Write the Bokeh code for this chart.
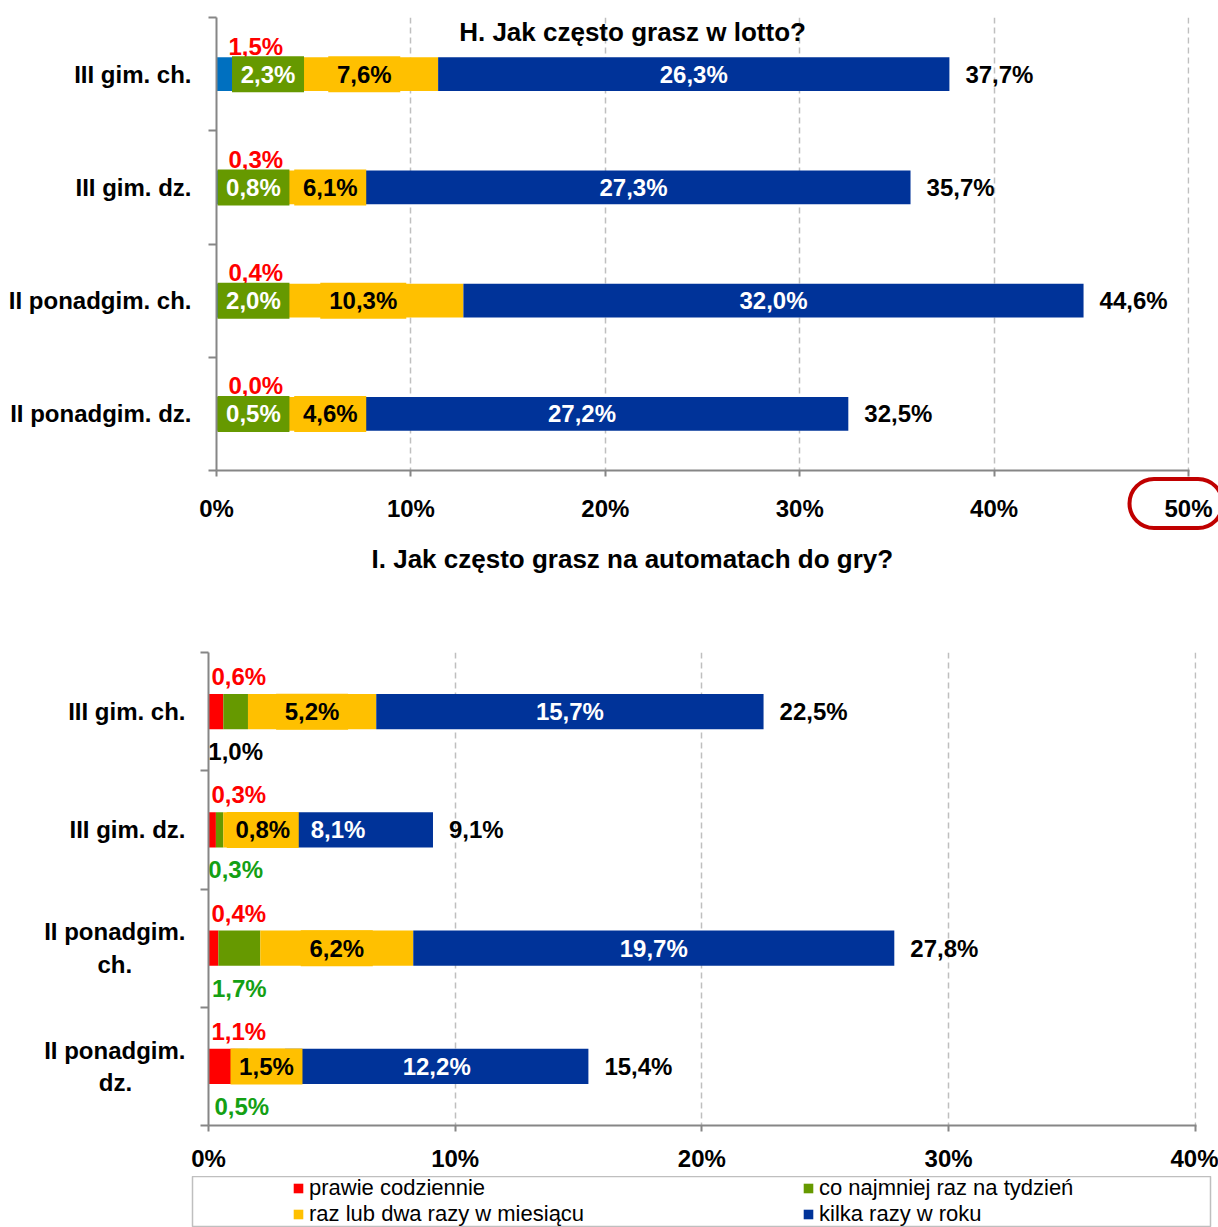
from bokeh.plotting import figure
from bokeh.models import (Range1d, FixedTicker, Label, Legend, LegendItem,
                          PrintfTickFormatter, Title)
from bokeh.embed import file_html
from bokeh.resources import INLINE
from bokeh.core.properties import value

FONT = "Liberation Sans"

# ---------------- data ----------------
series_names = ["prawie codziennie", "co najmniej raz na tydzień",
                "raz lub dwa razy w miesiącu", "kilka razy w roku"]

h_title = "H. Jak często grasz w lotto?"
h_categories = ["III gim. ch.", "III gim. dz.", "II ponadgim. ch.", "II ponadgim. dz."]
h_daily = [1.5, 0.3, 0.4, 0.0]
h_weekly = [2.3, 0.8, 2.0, 0.5]
h_monthly = [7.6, 6.1, 10.3, 4.6]
h_yearly = [26.3, 27.3, 32.0, 27.2]
h_total = [37.7, 35.7, 44.6, 32.5]
h_ticks = [0, 10, 20, 30, 40, 50]

i_title = "I. Jak często grasz na automatach do gry?"
i_categories = ["III gim. ch.", "III gim. dz.", "II ponadgim.\nch.", "II ponadgim.\ndz."]
i_daily = [0.6, 0.3, 0.4, 1.1]
i_weekly = [1.0, 0.3, 1.7, 0.5]
i_monthly = [5.2, 0.8, 6.2, 1.5]
i_yearly = [15.7, 8.1, 19.7, 12.2]
i_total = [22.5, 9.1, 27.8, 15.4]
i_ticks = [0, 10, 20, 30, 40]

# ---------------- styles ----------------
RED = "#FF0000"
LIGHTBLUE = "#0070C0"
GREEN = "#669900"
YELLOW = "#FFC000"
BLUE = "#003399"
AXIS = "#868686"
GRID = "#BFBFBF"
LABEL_GREEN = "#14A014"
MARK = "#C00000"
NBSP = "\u00a0"


def fmt(v):
    return ("%.1f" % v).replace(".", ",") + "%"


def box_w(t):
    return 14 * len(t) + 16


def add_text(p, xs, ys, texts, color, align="center", x_off=0, y_off=0):
    p.text(x=xs, y=ys, text=texts, text_font=value(FONT), text_font_size="24px",
           text_font_style="bold", text_color=color, text_align=align,
           text_baseline="middle", x_offset=x_off, y_offset=y_off)


def add_boxes(p, xs, ys, texts, fill):
    p.rect(x=xs, y=ys, width=[box_w(t) for t in texts], height=36,
           width_units="screen", height_units="screen",
           fill_color=fill, line_color=None)


def centre_second_line(label):
    # second line of a wrapped category label is centred under the first
    if "\n" not in label:
        return label
    a, b = label.split("\n")
    pad = max(0, round((len(a) - len(b)) * 0.9))
    return a + "\n" + b + NBSP * pad


def base_figure(height, xmax, ticks, cats, left, right, top, bottom,
                standoff_y, standoff_x):
    n = len(cats)
    p = figure(width=1218, height=height, output_backend="svg",
               toolbar_location=None, x_range=Range1d(0, xmax + 0.05),
               y_range=Range1d(n, 0), min_border_left=left,
               min_border_right=right, min_border_top=top,
               min_border_bottom=bottom)
    p.outline_line_color = None
    ypos = [k + 0.5 for k in range(n)]
    yax = p.yaxis[0]
    yax.ticker = FixedTicker(ticks=ypos, minor_ticks=list(range(n + 1)))
    yax.major_label_overrides = {y: centre_second_line(c) for y, c in zip(ypos, cats)}
    yax.major_tick_out = 0
    yax.major_tick_in = 0
    yax.minor_tick_out = 8
    yax.minor_tick_in = 0
    yax.minor_tick_line_color = AXIS
    yax.minor_tick_line_width = 2
    yax.axis_line_color = AXIS
    yax.axis_line_width = 2
    yax.major_label_standoff = standoff_y
    yax.major_label_text_font = FONT
    yax.major_label_text_font_size = "24px"
    yax.major_label_text_font_style = "bold"
    yax.major_label_text_color = "black"
    xax = p.xaxis[0]
    xax.ticker = FixedTicker(ticks=ticks)
    xax.formatter = PrintfTickFormatter(format="%d%%")
    xax.major_tick_out = 6
    xax.major_tick_in = 0
    xax.minor_tick_out = 0
    xax.minor_tick_in = 0
    xax.major_tick_line_color = AXIS
    xax.major_tick_line_width = 2
    xax.axis_line_color = AXIS
    xax.axis_line_width = 2
    xax.major_label_standoff = standoff_x
    xax.major_label_text_font = FONT
    xax.major_label_text_font_size = "24px"
    xax.major_label_text_font_style = "bold"
    xax.major_label_text_color = "black"
    p.ygrid.visible = False
    p.xgrid.ticker = FixedTicker(ticks=ticks[1:])
    p.xgrid.grid_line_color = GRID
    p.xgrid.grid_line_dash = "6 4"
    p.xgrid.grid_line_width = 1.5
    return p, ypos


def stack_bars(p, ypos, daily, weekly, monthly, yearly, total, first_color):
    c1 = list(daily)
    c2 = [a + b for a, b in zip(c1, weekly)]
    c3 = [a + b for a, b in zip(c2, monthly)]
    segs = [([0] * len(c1), c1, first_color), (c1, c2, GREEN),
            (c2, c3, YELLOW), (c3, list(total), BLUE)]
    for lft, rgt, col in segs:
        p.hbar(y=ypos, left=lft, right=rgt, height=0.3, fill_color=col,
               line_color=None)
    return c1, c2, c3


# ================= chart H =================
pH, yH = base_figure(647, 50, h_ticks, h_categories, 216, 29, 17, 177, 17, 18)
c1, c2, c3 = stack_bars(pH, yH, h_daily, h_weekly, h_monthly, h_yearly,
                        h_total, LIGHTBLUE)

add_text(pH, [0] * 4, yH, [fmt(v) for v in h_daily], RED, "left", 12, -28)
g_x = [max((a + b) / 2, 1.9) for a, b in zip(c1, c2)]
g_t = [fmt(v) for v in h_weekly]
add_boxes(pH, g_x, yH, g_t, GREEN)
add_text(pH, g_x, yH, g_t, "white")
m_x = [max((a + b) / 2, g + 3.95) for a, b, g in zip(c2, c3, g_x)]
m_t = [fmt(v) for v in h_monthly]
add_boxes(pH, m_x, yH, m_t, YELLOW)
add_text(pH, m_x, yH, m_t, "black")
add_text(pH, [(a + b) / 2 for a, b in zip(c3, h_total)], yH,
         [fmt(v) for v in h_yearly], "white")
add_text(pH, h_total, yH, [fmt(v) for v in h_total], "black", "left", 16)

pH.add_layout(Label(x=21.4, y=0.125, text=h_title, text_align="center",
                    text_baseline="middle", text_font=FONT,
                    text_font_size="26px", text_font_style="bold",
                    text_color="black"))

# title of the second chart sits between the two charts
pH.add_layout(Title(text=i_title, align="left", offset=155, standoff=38,
                    vertical_align="top", text_font=FONT,
                    text_font_size="26px", text_font_style="bold",
                    text_color="black"), "below")

# red hand-drawn ring round the last tick label of chart H
PX_PER_PCT = 972 / 50.05
PX_PER_ROW = 453 / len(h_categories)
ring_pad = dict(left=35, right=10, top=16, bottom=6)
ring_kw = dict(x=h_ticks[-1] - (ring_pad["left"] - ring_pad["right"]) / 2 / PX_PER_PCT,
               y=len(h_categories) + 33 / PX_PER_ROW,
               text="%d%%" % h_ticks[-1], text_align="center",
               text_baseline="middle", text_font=FONT, text_font_size="24px",
               text_font_style="bold", text_color="black",
               border_line_color=MARK, border_line_width=4,
               background_fill_color=None)
try:
    ring = Label(padding=ring_pad, border_radius=25, **ring_kw)
    pH.xaxis[0].major_label_overrides = {h_ticks[-1]: ""}
    pH.add_layout(ring, "below")
except Exception:
    pass

# ================= chart I =================
pI, yI = base_figure(529, 40, i_ticks, i_categories, 208, 22, 5, 51, 15, 13)
d1, d2, d3 = stack_bars(pI, yI, i_daily, i_weekly, i_monthly, i_yearly,
                        i_total, RED)

add_text(pI, [0] * 4, yI, [fmt(v) for v in i_daily], RED, "left", 3, -35)
week_colors = ["black", LABEL_GREEN, LABEL_GREEN, LABEL_GREEN]
w_x = [max((a + b) / 2, 1.1) for a, b in zip(d1, d2)]
pI.text(x=w_x, y=yI, text=[fmt(v) for v in i_weekly], text_font=value(FONT),
        text_font_size="24px", text_font_style="bold", text_color=week_colors,
        text_align="center", text_baseline="middle", y_offset=40)
mi_x = [max((a + b) / 2, 2.2) for a, b in zip(d2, d3)]
mi_t = [fmt(v) for v in i_monthly]
add_boxes(pI, mi_x, yI, mi_t, YELLOW)
add_text(pI, mi_x, yI, mi_t, "black")
add_text(pI, [(a + b) / 2 for a, b in zip(d3, i_total)], yI,
         [fmt(v) for v in i_yearly], "white")
add_text(pI, i_total, yI, [fmt(v) for v in i_total], "black", "left", 16)

# ================= legend strip =================
pL = figure(width=1218, height=51, output_backend="svg", toolbar_location=None,
            x_range=Range1d(0, 1), y_range=Range1d(10, 11),
            x_axis_location=None, y_axis_location=None,
            min_border_left=192, min_border_right=8, min_border_top=0,
            min_border_bottom=0)
pL.xgrid.visible = False
pL.ygrid.visible = False
pL.outline_line_color = GRID
pL.outline_line_width = 1.5
# legend keys: the four series of chart I (out of view in this strip)
key_cols = [RED, GREEN, YELLOW, BLUE]
key_vals = [i_daily, i_weekly, i_monthly, i_yearly]
keys = [pL.hbar(y=yI, left=[0] * len(v), right=v, height=0.3, fill_color=c,
                line_color=None) for v, c in zip(key_vals, key_cols)]


def legend_row(items, y):
    lg = Legend(items=items, orientation="horizontal", location=(100, y),
                label_text_font=FONT, label_text_font_size="22px",
                label_text_color="black", glyph_width=12, glyph_height=12,
                label_standoff=5, label_width=488, spacing=5, padding=0,
                margin=0, border_line_color=None, background_fill_color=None,
                background_fill_alpha=0)
    pL.add_layout(lg)


legend_row([LegendItem(label=series_names[0], renderers=[keys[0]]),
            LegendItem(label=series_names[1], renderers=[keys[1]])], 26)
legend_row([LegendItem(label=series_names[2], renderers=[keys[2]]),
            LegendItem(label=series_names[3], renderers=[keys[3]])], 0)

open("out.html", "w").write(file_html([pH, pI, pL], INLINE))
